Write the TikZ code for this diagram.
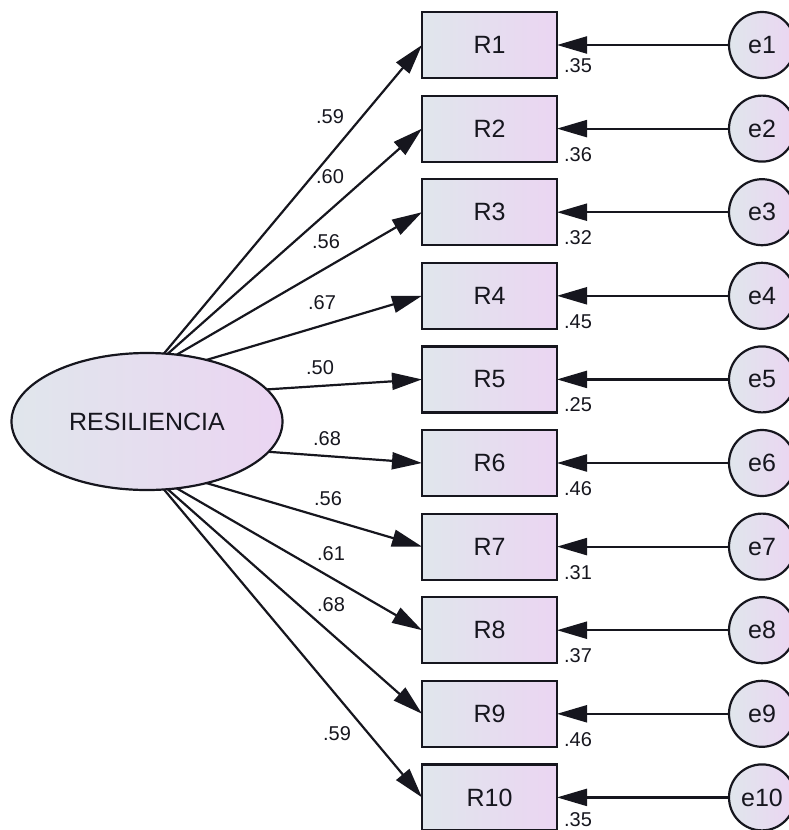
\documentclass[tikz,border=0pt]{standalone}
\usepackage{fontspec}
\setmainfont{Liberation Sans}
\usetikzlibrary{arrows.meta,shapes.geometric}
\definecolor{cL}{RGB}{224,230,236}
\definecolor{cR}{RGB}{235,213,242}
\definecolor{ink}{RGB}{22,22,30}
\begin{document}
\begin{tikzpicture}[x=1pt,y=-1pt,
  shapeline/.style={draw=ink, line width=2.2pt, left color=cL, right color=cR, outer sep=0pt, inner sep=0pt, text=ink, font=\fontsize{25}{29}\selectfont},
  obsbox/.style={shapeline, rectangle, minimum width=135pt, minimum height=66pt},
  errc/.style={shapeline, circle, minimum size=66pt},
  latent/.style={shapeline, ellipse, minimum width=271pt, minimum height=137pt},
  loadarrow/.style={draw=ink, line width=2.2pt, -{Triangle[length=30pt,width=17pt]}},
  coef/.style={text=ink, font=\fontsize{20}{23}\selectfont, inner sep=0pt}
]
\useasboundingbox (0,0) rectangle (789,830);
\clip (0,0) rectangle (789,830);

\node[latent] (res) at (147,421.5) {RESILIENCIA};

\foreach \i/\y/\ly/\r in {1/45/66/.35, 2/128.6/155/.36, 3/212.2/238/.32, 4/295.8/322/.45, 5/379.4/405/.25, 6/463/489/.46, 7/546.6/573/.31, 8/630.2/656/.37, 9/713.8/740/.46, 10/797.4/820/.35} {
  \node[obsbox] (r\i) at (489.5,\y) {R\i};
  \node[errc] (e\i) at (762,\y) {e\i};
  \draw[loadarrow] (e\i) -- (r\i);
  \node[coef] (s\i) at (578,\ly) {\r};
}

\foreach \i/\a/\lx/\ly/\c in {1/76.8/330/117/.59, 2/73.6/330/177/.60, 3/66.6/326/242/.56, 4/46.9/322/303/.67, 5/15.3/320/368/.50, 6/-14.8/327/439/.68, 7/-46.9/328/499/.56, 8/-66.6/331/554/.61, 9/-73.6/331/605/.68, 10/-76.8/337/734/.59} {
  \draw[loadarrow] (res.\a) -- (r\i.west);
  \node[coef] (c\i) at (\lx,\ly) {\c};
}
\end{tikzpicture}
\end{document}
